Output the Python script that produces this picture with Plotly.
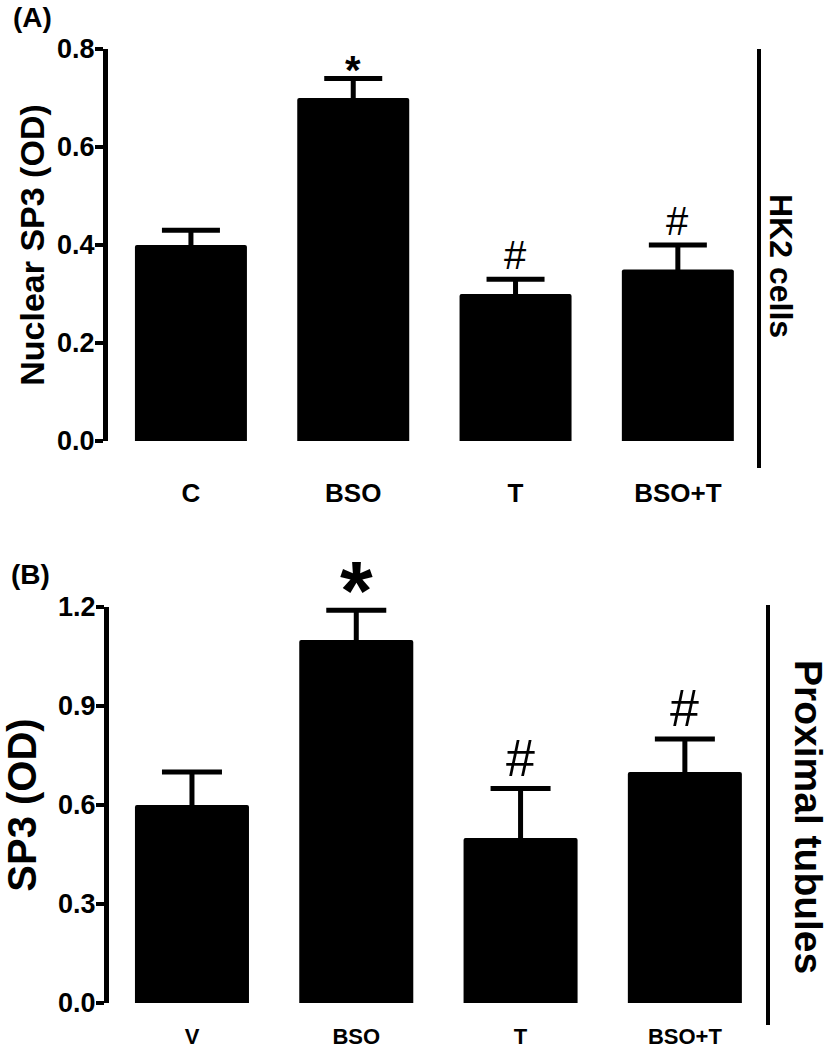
import plotly.graph_objects as go

# ---- data ----
cats_a = ["C", "BSO", "T", "BSO+T"]
vals_a = [0.40, 0.70, 0.30, 0.35]
err_a = [0.03, 0.04, 0.03, 0.05]
sig_a = ["", "*", "#", "#"]

cats_b = ["V", "BSO", "T", "BSO+T"]
vals_b = [0.60, 1.10, 0.50, 0.70]
err_b = [0.10, 0.09, 0.15, 0.10]
sig_b = ["", "*", "#", "#"]

ticks_a = [0.0, 0.2, 0.4, 0.6, 0.8]
ticks_b = [0.0, 0.3, 0.6, 0.9, 1.2]

FONT = "Liberation Sans, Arial, Helvetica, sans-serif"
W, H = 831, 1050


def px(x):
    return x / W


def py(y):
    return 1 - y / H


fig = go.Figure()

fig.add_trace(go.Bar(
    x=list(range(len(cats_a))), y=vals_a, width=0.69,
    marker=dict(color="black", line=dict(width=0)),
    error_y=dict(type="data", array=err_a, symmetric=True,
                 color="black", thickness=5, width=29),
    xaxis="x", yaxis="y", showlegend=False, hoverinfo="skip"))

fig.add_trace(go.Bar(
    x=list(range(len(cats_b))), y=vals_b, width=0.694,
    marker=dict(color="black", line=dict(width=0)),
    error_y=dict(type="data", array=err_b, symmetric=True,
                 color="black", thickness=5, width=30),
    xaxis="x2", yaxis="y2", showlegend=False, hoverinfo="skip"))

yax_common = dict(showline=True, linewidth=5, linecolor="black", ticks="outside",
                  ticklen=8, tickwidth=4, tickcolor="black", showgrid=False, zeroline=False,
                  automargin=False, ticklabelstandoff=-5,
                  tickfont=dict(family=FONT, size=27, color="black", weight="bold"))
xax_common = dict(showline=False, ticks="", showgrid=False, zeroline=False, automargin=False)

fig.update_layout(
    width=W, height=H, autosize=False,
    margin=dict(l=0, r=0, t=0, b=0, autoexpand=False),
    paper_bgcolor="white", plot_bgcolor="white",
    barcornerradius=2,
    xaxis=dict(domain=[px(108), px(759)], range=[-0.511, 3.50], anchor="y",
               tickvals=list(range(len(cats_a))), ticktext=cats_a, ticklabelstandoff=34,
               tickfont=dict(family=FONT, size=26, color="black", weight="bold"),
               **xax_common),
    yaxis=dict(domain=[py(441), py(49)], range=[0, 0.8], anchor="x",
               tickvals=ticks_a, ticktext=[f"{t:.1f}" for t in ticks_a],
               title=dict(text="Nuclear SP3 (OD)", standoff=4,
                          font=dict(family=FONT, size=34, color="black", weight="bold")),
               **yax_common),
    xaxis2=dict(domain=[px(109), px(768)], range=[-0.505, 3.506], anchor="y2",
                tickvals=list(range(len(cats_b))), ticktext=cats_b, ticklabelstandoff=18,
                tickfont=dict(family=FONT, size=22, color="black", weight="bold"),
                **xax_common),
    yaxis2=dict(domain=[py(1003), py(607)], range=[0, 1.2], anchor="x2",
                tickvals=ticks_b, ticktext=[f"{t:.1f}" for t in ticks_b],
                title=dict(text="SP3 (OD)", standoff=28,
                           font=dict(family=FONT, size=40, color="black", weight="bold")),
                **yax_common),
)

annotations = []
# significance marks panel A
for i, s in enumerate(sig_a):
    if not s:
        continue
    if s == "*":
        annotations.append(dict(x=i, y=vals_a[i] + err_a[i], xref="x", yref="y", text=s,
                                showarrow=False, yanchor="bottom", yshift=-16,
                                font=dict(family=FONT, size=40, color="black", weight="bold")))
    else:
        annotations.append(dict(x=i, y=vals_a[i] + err_a[i], xref="x", yref="y", text=s,
                                showarrow=False, yanchor="bottom", yshift=0,
                                font=dict(family=FONT, size=40, color="black")))
# significance marks panel B
for i, s in enumerate(sig_b):
    if not s:
        continue
    if s == "*":
        annotations.append(dict(x=i, y=vals_b[i] + err_b[i], xref="x2", yref="y2", text=s,
                                showarrow=False, yanchor="bottom", yshift=-30,
                                font=dict(family=FONT, size=84, color="black", weight="bold")))
    else:
        annotations.append(dict(x=i, y=vals_b[i] + err_b[i], xref="x2", yref="y2", text=s,
                                showarrow=False, yanchor="bottom", yshift=0,
                                font=dict(family=FONT, size=52, color="black")))

# panel labels and side labels
annotations += [
    dict(x=px(11), y=py(17), xref="paper", yref="paper", text="(A)", showarrow=False,
         xanchor="left", yanchor="middle",
         font=dict(family=FONT, size=28, color="black", weight="bold")),
    dict(x=px(9), y=py(574), xref="paper", yref="paper", text="(B)", showarrow=False,
         xanchor="left", yanchor="middle",
         font=dict(family=FONT, size=28, color="black", weight="bold")),
    dict(x=px(781), y=py(266), xref="paper", yref="paper", text="HK2 cells", showarrow=False,
         textangle=90, xanchor="center", yanchor="middle",
         font=dict(family=FONT, size=32, color="black", weight="bold")),
    dict(x=px(809), y=py(817), xref="paper", yref="paper", text="Proximal tubules",
         showarrow=False, textangle=90, xanchor="center", yanchor="middle",
         font=dict(family=FONT, size=39, color="black", weight="bold")),
]
fig.update_layout(annotations=annotations)

# vertical bracket lines on the right
fig.add_shape(type="line", xref="paper", yref="paper", x0=px(759), x1=px(759),
              y0=py(49), y1=py(468), line=dict(color="black", width=4))
fig.add_shape(type="line", xref="paper", yref="paper", x0=px(768), x1=px(768),
              y0=py(605), y1=py(1025), line=dict(color="black", width=4))

fig.write_html("out.html", config={"displayModeBar": False},
               post_script="document.body.style.margin='0';document.body.style.padding='0';")
